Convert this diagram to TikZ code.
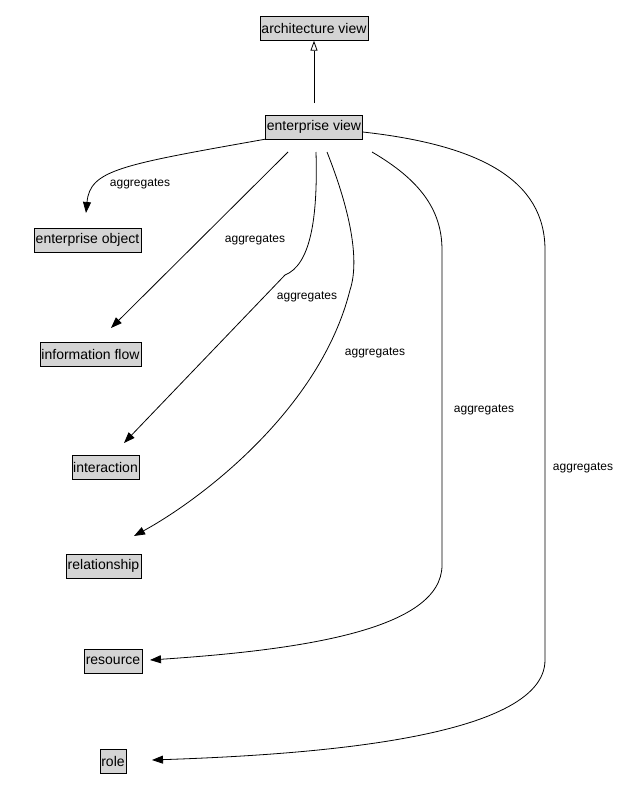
\documentclass[tikz,border=0pt]{standalone}
\usepackage{fontspec}
\setmainfont{Liberation Sans}
\usetikzlibrary{arrows.meta}
\begin{document}
\begin{tikzpicture}[x=1pt,y=-1pt,
  cls/.style={draw,fill=black!17,inner sep=1.5pt,minimum height=24pt,font=\fontsize{14}{16}\selectfont},
  agg/.style={-{Triangle[length=11pt,width=8pt]},line width=0.8pt},
  lab/.style={font=\fontsize{12}{14}\selectfont}]
\useasboundingbox (0,0) rectangle (629,811);
\node[cls] (av) at (314,28.5) {architecture view};
\node[cls] (ev) at (314,127) {enterprise view};
\node[cls] (eo) at (87.5,240) {enterprise object};
\node[cls] (if) at (90.5,354) {information flow};
\node[cls] (ia) at (105.5,467) {interaction};
\node[cls] (rl) at (103.5,566) {relationship};
\node[cls] (rs) at (113,661) {resource};
\node[cls] (ro) at (113,761) {role};
\draw[-{Triangle[open,length=10pt,width=7pt]},line width=0.8pt] (314,103) -- (av.south);
\draw[agg] (ev.south west) .. controls (120,165) and (90,170) .. (86,213);
\draw[agg] (288,152) -- (111,328);
\draw[agg] (316,152) .. controls (318,220) and (310,265) .. (285,275) -- (124,443);
\draw[agg] (327,152) .. controls (350,210) and (360,260) .. (350,290) .. controls (320,410) and (200,500) .. (134,536);
\draw[agg] (372,152) .. controls (420,180) and (442,210) .. (442,250) -- (442,565) .. controls (442,630) and (300,650) .. (150,660);
\draw[agg] (ev.east) ++(0,5) .. controls (480,145) and (545,180) .. (545,250) -- (545,660) .. controls (545,740) and (300,755) .. (152,760);
\node[lab] (l1) at (140,184) {aggregates};
\node[lab] (l2) at (255,240) {aggregates};
\node[lab] (l3) at (307,297) {aggregates};
\node[lab] (l4) at (375,353) {aggregates};
\node[lab] (l5) at (484,410) {aggregates};
\node[lab] (l6) at (583,468) {aggregates};
\end{tikzpicture}
\end{document}
